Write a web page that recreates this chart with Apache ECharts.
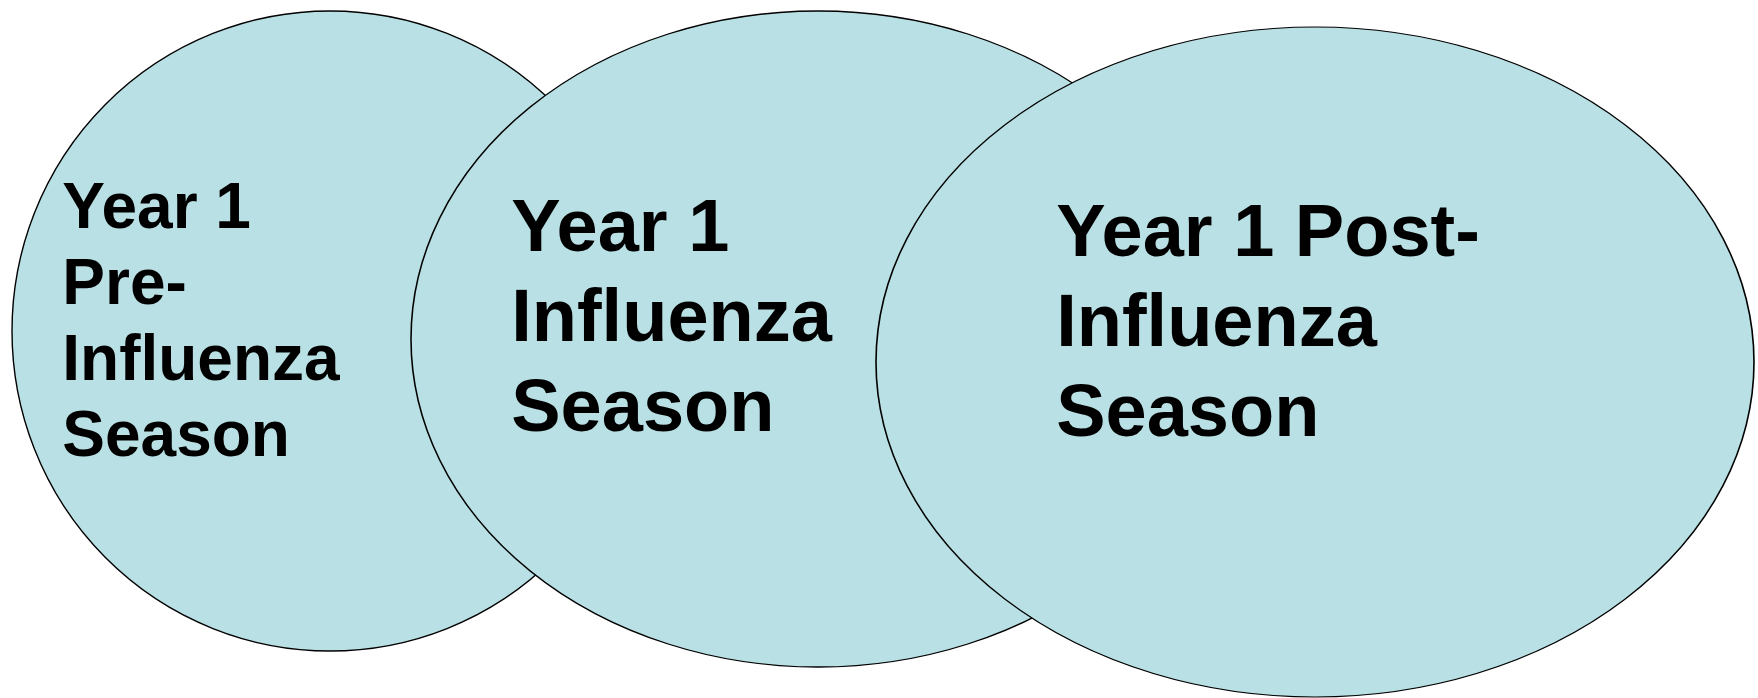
<!DOCTYPE html>
<html>
<head>
<meta charset="utf-8">
<title>Influenza seasons</title>
<script src="https://cdn.jsdelivr.net/npm/echarts@6/dist/echarts.min.js"></script>
<style>
  html, body { margin: 0; padding: 0; background: #fff; }
  #chart { width: 1758px; height: 698px; }
</style>
</head>
<body>
<div id="chart"></div>
<script>
// Three overlapping periods, drawn left to right (later ones on top).
const periods = [
    'Year 1\nPre-\nInfluenza\nSeason',
    'Year 1\nInfluenza\nSeason',
    'Year 1 Post-\nInfluenza\nSeason'
];
// Ellipse centres and half-axes, in canvas units.
const centerX = [330, 818, 1315];
const centerY = [331, 339, 362];
const radiusX = [318, 407, 439];
const radiusY = [320, 328, 335];

// Text placement inside each ellipse (offset from its bounding box).
const labelPos = [[51, 162], [101, 175], [181, 164]];
const labelFont = [
    { fontSize: 64, lineHeight: 76 },
    { fontSize: 74, lineHeight: 90 },
    { fontSize: 74, lineHeight: 90 }
];

const chart = echarts.init(document.getElementById('chart'), null, { renderer: 'canvas' });

const data = periods.map((name, i) => ({
    name: name,
    value: [centerX[i], centerY[i]],
    symbolSize: [radiusX[i] * 2, radiusY[i] * 2],
    label: {
        position: labelPos[i],
        fontSize: labelFont[i].fontSize,
        lineHeight: labelFont[i].lineHeight
    }
}));

chart.setOption({
    animation: false,
    grid: { left: 0, right: 0, top: 0, bottom: 0 },
    xAxis: { type: 'value', min: 0, max: 1758, show: false },
    yAxis: { type: 'value', min: 0, max: 698, inverse: true, show: false },
    series: [{
        type: 'scatter',
        silent: true,
        symbol: 'circle',
        itemStyle: {
            color: '#b9e0e4',
            borderColor: '#000',
            borderWidth: 1.4,
            opacity: 1
        },
        label: {
            show: true,
            formatter: p => p.name,
            align: 'left',
            verticalAlign: 'top',
            color: '#000',
            fontFamily: '"Liberation Sans", Arial, sans-serif',
            fontWeight: 'bold'
        },
        data: data
    }]
});
</script>
</body>
</html>
